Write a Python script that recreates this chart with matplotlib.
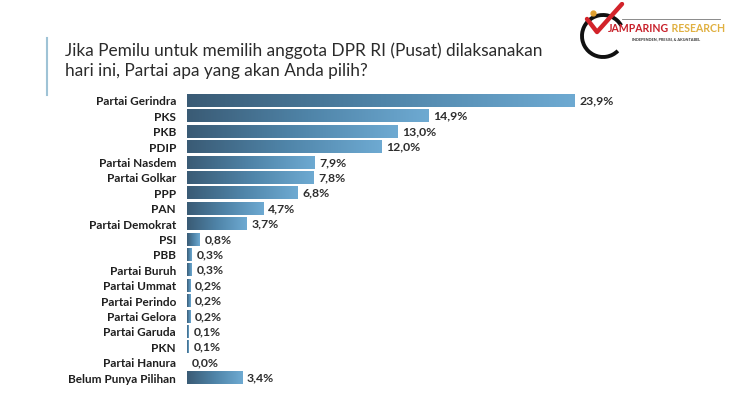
import numpy as np
import matplotlib.pyplot as plt
from matplotlib.colors import LinearSegmentedColormap
from matplotlib.patches import Arc

parties = ["Partai Gerindra", "PKS", "PKB", "PDIP", "Partai Nasdem", "Partai Golkar",
           "PPP", "PAN", "Partai Demokrat", "PSI", "PBB", "Partai Buruh", "Partai Ummat",
           "Partai Perindo", "Partai Gelora", "Partai Garuda", "PKN", "Partai Hanura",
           "Belum Punya Pilihan"]
values = [23.9, 14.9, 13.0, 12.0, 7.9, 7.8, 6.8, 4.7, 3.7, 0.8, 0.3, 0.3, 0.2,
          0.2, 0.2, 0.1, 0.1, 0.0, 3.4]

title = "Jika Pemilu untuk memilih anggota DPR RI (Pusat) dilaksanakan\nhari ini, Partai apa yang akan Anda pilih?"

cmap = LinearSegmentedColormap.from_list("bar", ["#3a5b75", "#4f84a8", "#6eaad2"])
grad = np.linspace(0, 1, 256).reshape(1, -1)

fig = plt.figure(figsize=(7.5, 4), dpi=100)
fig.patch.set_facecolor("white")

ax = fig.add_axes([187 / 750, 0.0357, 533 / 750, 0.7315])
n = len(parties)
ypos = np.arange(n)
ax.barh(ypos, values, height=0.8, color="none")
for y, v in zip(ypos, values):
    if v > 0:
        ax.imshow(grad, cmap=cmap, aspect="auto", extent=[0, v, y + 0.4, y - 0.4],
                  interpolation="bicubic", zorder=2)
    ax.text(v + 0.3, y, f"{v:.1f}%".replace(".", ","), va="center", ha="left",
            fontsize=8.8, fontweight="bold", color="#2e2e2e", family="Lato")

ax.set_xlim(0, 533 / 16.2)
ax.set_ylim(n - 0.5, -0.5)
ax.set_yticks(ypos)
ax.set_yticklabels(parties, fontsize=8.5, fontweight="bold", color="#1f1f1f", family="Lato")
ax.tick_params(axis="y", length=0, pad=8)
ax.set_xticks([])
for s in ax.spines.values():
    s.set_visible(False)

# title block
fig.add_artist(plt.Line2D([47 / 750, 47 / 750], [1 - 38 / 400, 1 - 95 / 400],
                          color="#9fc3d6", lw=1.5))
fig.text(65 / 750, 1 - 61 / 400, title, fontsize=12.4, color="#2b2b2b", family="Lato",
         va="center", ha="left", linespacing=1.3)

# logo
logo_ax = fig.add_axes([578 / 750, 1 - 60 / 400, 60 / 750, 58 / 400])
logo_ax.set_xlim(0, 60)
logo_ax.set_ylim(58, 0)
logo_ax.axis("off")
logo_ax.add_patch(Arc((25, 34), 42, 42, theta1=45, theta2=330, color="#111111", lw=2.8))
logo_ax.plot([9, 19, 44], [17, 30, 2], color="#d2232a", lw=3.2, solid_capstyle="round")
logo_ax.plot([15], [11], "o", color="#e0a030", ms=3.5)
fig.add_artist(plt.Line2D([622 / 750, 720 / 750], [1 - 19 / 400, 1 - 19 / 400],
                          color="#777777", lw=0.6))
t1 = fig.text(608 / 750, 1 - 29 / 400, "JAMPARING", fontsize=7.6, fontweight="bold",
              color="#c8202a", family="Lato", va="center", ha="left")
logo_ax.annotate(" RESEARCH", xy=(1, 0.5), xycoords=t1, fontsize=7.6, fontweight="bold",
                 color="#e0b040", family="Lato", va="center", ha="left",
                 annotation_clip=False)
fig.text(632 / 750, 1 - 39 / 400, "INDEPENDEN, PRESISI, & AKUNTABEL", fontsize=2.8,
         fontweight="bold", color="#333333", family="Lato", va="center", ha="left")

fig.savefig("out.png", dpi=100, facecolor="white")
